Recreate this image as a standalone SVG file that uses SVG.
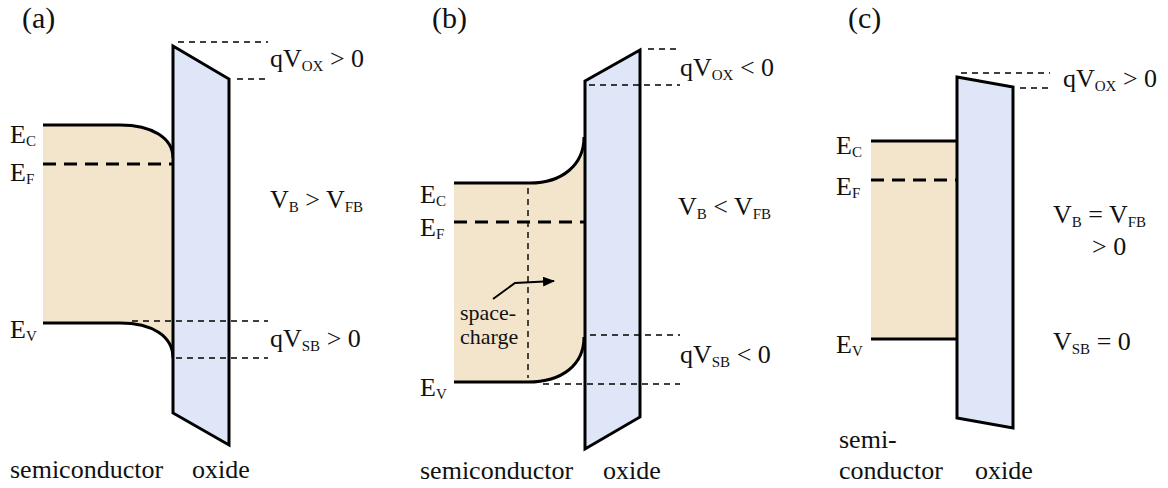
<svg xmlns="http://www.w3.org/2000/svg" width="1168" height="488" viewBox="0 0 1168 488">
<defs>
<style>
text{font-family:"Liberation Serif","Times New Roman",serif;fill:#111;}
.t{font-size:26px;}
.p{font-size:30px;}
.sc{font-size:22px;}
.s{font-size:15px;}
.semi{fill:#f2e5cb;stroke:none;}
.ox{fill:#dee6f7;stroke:#000;stroke-width:3;stroke-linejoin:miter;}
.band{fill:none;stroke:#000;stroke-width:3;}
.ef{fill:none;stroke:#000;stroke-width:3;stroke-dasharray:13 8;}
.thin{fill:none;stroke:#000;stroke-width:1.4;stroke-dasharray:6 5;}
.arr{fill:none;stroke:#000;stroke-width:2;}
</style>
<marker id="ah" viewBox="0 0 12 10" refX="11" refY="5" markerWidth="12" markerHeight="10" orient="auto" markerUnits="userSpaceOnUse">
<path d="M0,0 L12,5 L0,10 Z" fill="#000"/>
</marker>
</defs>
<rect width="1168" height="488" fill="#fff"/>

<!-- Panel (a) -->
<g id="panel-a">
<text class="p" x="22" y="28">(a)</text>
<g id="a-semiconductor">
<path class="semi" d="M43,125 H120 C152,125 173,138 173,158 V358 C173,336 152,323 120,323 H43 Z"/>
<path class="band" d="M43,125 H120 C152,125 173,138 173,158"/>
<path class="band" d="M43,323 H120 C152,323 173,336 173,358"/>
<line class="ef" x1="43" y1="164" x2="173" y2="164"/>
</g>
<g id="a-oxide">
<polygon class="ox" points="173,46 229,79 229,445 173,413"/>
</g>
<text class="t" x="10" y="143">E<tspan class="s" dy="3">C</tspan></text>
<text class="t" x="10" y="181">E<tspan class="s" dy="3">F</tspan></text>
<text class="t" x="10" y="338">E<tspan class="s" dy="3">V</tspan></text>
<text class="t" x="270" y="67">qV<tspan class="s" dy="4">OX</tspan><tspan dy="-4"> &gt; 0</tspan></text>
<text class="t" x="270" y="208">V<tspan class="s" dy="4">B</tspan><tspan dy="-4"> &gt; V</tspan><tspan class="s" dy="4">FB</tspan></text>
<text class="t" x="270" y="347">qV<tspan class="s" dy="4">SB</tspan><tspan dy="-4"> &gt; 0</tspan></text>
<text class="t" x="10" y="478">semiconductor</text>
<text class="t" x="192" y="478">oxide</text>
</g>

<!-- Panel (b) -->
<g id="panel-b">
<text class="p" x="432" y="28">(b)</text>
<g id="b-semiconductor">
<path class="semi" d="M454,183 H530 C562,183 584,165 584,137 V337 C584,365 562,382 528,382 H454 Z"/>
<path class="band" d="M454,183 H530 C562,183 584,165 584,137"/>
<path class="band" d="M454,382 H528 C562,382 584,365 584,337"/>
<line class="ef" x1="454" y1="222" x2="584" y2="222"/>
</g>
<g id="b-oxide">
<polygon class="ox" points="585,81 640,50 640,417 585,449"/>
</g>
<text class="t" x="420" y="203">E<tspan class="s" dy="3">C</tspan></text>
<text class="t" x="420" y="236">E<tspan class="s" dy="3">F</tspan></text>
<text class="t" x="420" y="396">E<tspan class="s" dy="3">V</tspan></text>
<text class="t" x="680" y="76">qV<tspan class="s" dy="4">OX</tspan><tspan dy="-4"> &lt; 0</tspan></text>
<text class="t" x="678" y="215">V<tspan class="s" dy="4">B</tspan><tspan dy="-4"> &lt; V</tspan><tspan class="s" dy="4">FB</tspan></text>
<text class="t" x="680" y="363">qV<tspan class="s" dy="4">SB</tspan><tspan dy="-4"> &lt; 0</tspan></text>
<text class="sc" x="460" y="320">space-</text>
<text class="sc" x="460" y="344">charge</text>
<text class="t" x="420" y="479">semiconductor</text>
<text class="t" x="603" y="479">oxide</text>
</g>

<!-- Panel (c) -->
<g id="panel-c">
<text class="p" x="848" y="28">(c)</text>
<g id="c-semiconductor">
<rect class="semi" x="871" y="141" width="86" height="198"/>
<line class="band" x1="871" y1="141" x2="957" y2="141"/>
<line class="band" x1="871" y1="339" x2="957" y2="339"/>
<line class="ef" x1="871" y1="180" x2="957" y2="180"/>
</g>
<g id="c-oxide">
<polygon class="ox" points="957,77 1013,87 1013,428 957,418"/>
</g>
<text class="t" x="836" y="154">E<tspan class="s" dy="3">C</tspan></text>
<text class="t" x="836" y="195">E<tspan class="s" dy="3">F</tspan></text>
<text class="t" x="836" y="353">E<tspan class="s" dy="3">V</tspan></text>
<text class="t" x="1063" y="87">qV<tspan class="s" dy="4">OX</tspan><tspan dy="-4"> &gt; 0</tspan></text>
<text class="t" x="1053" y="223">V<tspan class="s" dy="4">B</tspan><tspan dy="-4"> = V</tspan><tspan class="s" dy="4">FB</tspan></text>
<text class="t" x="1092" y="255">&gt; 0</text>
<text class="t" x="1053" y="350">V<tspan class="s" dy="4">SB</tspan><tspan dy="-4"> = 0</tspan></text>
<text class="t" x="839" y="448">semi-</text>
<text class="t" x="839" y="479">conductor</text>
<text class="t" x="975" y="479">oxide</text>
</g>

<!-- Connectors: dashed level markers and annotation arrow -->
<g id="connectors">
<line class="thin" x1="178" y1="42" x2="268" y2="42"/>
<line class="thin" x1="237" y1="79" x2="268" y2="79"/>
<line class="thin" x1="132" y1="321" x2="268" y2="321"/>
<line class="thin" x1="176" y1="358" x2="268" y2="358"/>
<line class="thin" x1="648" y1="49" x2="680" y2="49"/>
<line class="thin" x1="589" y1="85" x2="680" y2="85"/>
<line class="thin" x1="590" y1="335" x2="680" y2="335"/>
<line class="thin" x1="543" y1="384" x2="680" y2="384"/>
<line class="thin" x1="528" y1="188" x2="528" y2="378"/>
<line class="thin" x1="961" y1="73" x2="1050" y2="73"/>
<line class="thin" x1="1020" y1="88" x2="1050" y2="88"/>
<polyline class="arr" points="493,299 515,283 554,281" marker-end="url(#ah)"/>
</g>
</svg>
